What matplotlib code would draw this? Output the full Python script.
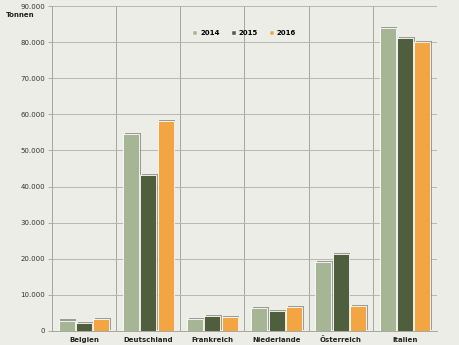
import numpy as np
import matplotlib.pyplot as plt
import matplotlib.patheffects as pe
from matplotlib.lines import Line2D
from matplotlib.ticker import FuncFormatter, MultipleLocator

laender = ['Belgien', 'Deutschland', 'Frankreich', 'Niederlande', 'Österreich', 'Italien']
jahre = ['2014', '2015', '2016']
werte_2014 = [2900, 54500, 3300, 6300, 19200, 83800]
werte_2015 = [2300, 43200, 4100, 5400, 21400, 81200]
werte_2016 = [3300, 58200, 3800, 6600, 6900, 80100]
farben = ['#a6b594', '#4f5e3d', '#f3a443']

bg = '#ededE7'
fig = plt.figure(figsize=(4.6, 3.45), dpi=100, facecolor=bg)
ax = fig.add_axes([0.113, 0.0406, 0.837, 0.942], facecolor=bg)

x = np.arange(len(laender))
breite = 0.25
abstand = 0.27
schatten = [pe.SimplePatchShadow(offset=(1.2, 0.8), shadow_rgbFace='#7a7a72', alpha=0.7), pe.Normal()]
for i, (werte, farbe) in enumerate(zip([werte_2014, werte_2015, werte_2016], farben)):
    ax.bar(x + (i - 1) * abstand, werte, breite, color=farbe, edgecolor='white',
           linewidth=0.6, zorder=3, path_effects=schatten)

ax.set_xlim(-0.5, len(laender) - 0.5)
ax.set_ylim(0, 90000)
ax.yaxis.set_major_locator(MultipleLocator(10000))
ax.yaxis.set_major_formatter(FuncFormatter(lambda v, p: f'{int(v):,}'.replace(',', '.')))
ax.set_xticks(x)
ax.set_xticklabels(laender, fontsize=5, fontweight='bold', color='#222222')
ax.tick_params(axis='y', labelsize=5, labelcolor='#333333', color='#a0a09a',
               length=3, width=0.6, pad=2)
ax.tick_params(axis='x', length=0, pad=4)

# vertikale Trennlinien zwischen den Ländern
ax.set_xticks(np.arange(-0.5, len(laender)), minor=True)
ax.grid(which='minor', axis='x', color='#a6a69e', linewidth=0.7, zorder=1)
ax.grid(which='major', axis='y', color='#b8b8b0', linewidth=0.7, zorder=1)
ax.tick_params(which='minor', length=0)
for s in ['top', 'right']:
    ax.spines[s].set_visible(False)
for s in ['left', 'bottom']:
    ax.spines[s].set_color('#a6a69e')
    ax.spines[s].set_linewidth(0.7)

fig.text(0.012, 0.952, 'Tonnen', fontsize=5, fontweight='bold', color='#222222')

griffe = [Line2D([], [], linestyle='none', marker='s', markersize=2.2,
                 markerfacecolor=f, markeredgecolor='white', markeredgewidth=0.3)
          for f in farben]
leg = ax.legend(griffe, jahre, loc='upper center', bbox_to_anchor=(0.5, 0.945), ncol=3,
                frameon=False, fontsize=5, handlelength=0.6, handletextpad=0.4,
                columnspacing=1.7)
for t in leg.get_texts():
    t.set_fontweight('bold')

fig.savefig('out.png', dpi=100, facecolor=bg)
